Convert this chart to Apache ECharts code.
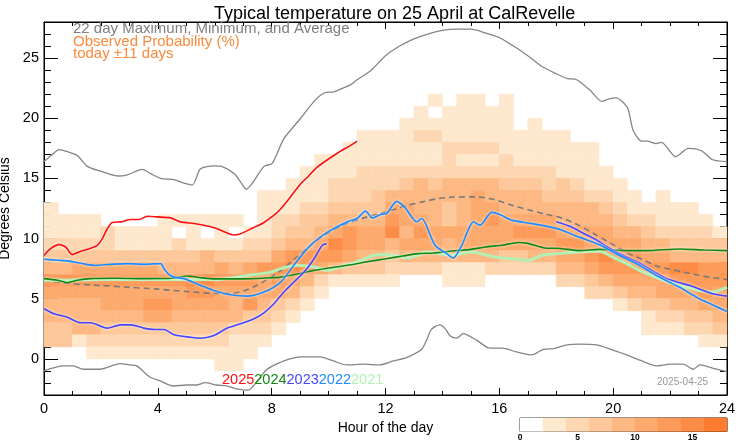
<!DOCTYPE html>
<html><head><meta charset="utf-8">
<script src="https://cdn.jsdelivr.net/npm/echarts@6/dist/echarts.min.js"></script>
<style>html,body{margin:0;padding:0;background:#fff}#c{width:742px;height:445px}</style>
</head><body><div id="c"></div>
<script>
// ---------- data ----------
const xTicks = [0, 4, 8, 12, 16, 20, 24];
const yMajorTicks = [0, 5, 10, 15, 20, 25];
const colorbarTicks = [0, 5, 10, 15];
const colorbarEdges = [0, 2, 4, 6, 8, 10, 12, 14, 16, 18];   // % per colour step
const yearLabels = ['2025', '2024', '2023', '2022', '2021'];

// Observed probability, colour step per cell (0 = <2 %), rows from 22 °C down to -1 °C, 48 half-hour bins
const probTopT = 22;
const binHours = 0.5;
const probRows = [
  '000000000000000000000000000000000000000000000000',
  '000000000000000000000000000101101000000000000000',
  '000000000000000000000000001011111000000000000000',
  '000000000000000000000000011111111010000000000000',
  '000000000000000000000011112211111111100000000000',
  '000000000000000000000111111122221111111000000000',
  '000000000000000000011111111121112111111000000000',
  '000000000000000000111122222222222222111100000000',
  '000000000000000001112222234344443332321110000000',
  '000000000000000111112223444444544443332211010000',
  '100000000000000111223333554434554444444321111100',
  '111100001111110122334444655434565555444432211110',
  '111121111010101123345655746555555666555544322221',
  '222221111211112234457655455545555555665555443333',
  '333333333334333356666544344444443344556766554444',
  '445555554444545667654333222211122222445666667766',
  '666666666677666565421111100011100000223455556666',
  '555555555566555554210000000000000000002234455565',
  '444455566555546432100000000000000000000012334455',
  '444444455444443321000000000000000000000000122334',
  '334433333333322210000000000000000000000000111223',
  '331222222222211100000000000000000000000000000011',
  '000111111111111000000000000000000000000000000000',
  '000000000000110000000000000000000000000000000000'
];

const maxLine = [[0,16.4],[0.25,16.9],[0.53,17.4],[0.85,17.2],[1.17,16.9],[1.52,16.0],[1.99,15.6],[2.58,15.2],[2.93,15.3],[3.45,15.75],[3.75,15.4],[4.1,15.0],[4.57,14.9],[4.92,14.6],[5.21,14.45],[5.5,15.8],[5.97,16.05],[6.24,16.0],[6.68,15.4],[6.91,14.7],[7.11,14.1],[7.32,14.6],[7.73,16.0],[8.02,16.25],[8.43,18.3],[9.02,20.0],[9.49,21.4],[9.84,22.1],[10.19,22.2],[10.5,22.5],[10.75,22.75],[11.0,23.2],[11.5,24.0],[12.0,25.2],[12.5,26.0],[13.0,26.6],[13.5,27.0],[14.0,27.3],[14.5,27.4],[15.0,27.4],[15.5,27.1],[16.0,26.7],[16.5,26.0],[17.0,25.2],[17.5,24.3],[18.0,23.7],[18.4,23.3],[18.72,23.2],[19.2,22.3],[19.6,21.4],[19.83,21.6],[20.1,21.7],[20.5,20.9],[20.7,19.0],[21.0,18.1],[21.2,18.1],[21.5,17.9],[21.7,18.0],[22.2,16.8],[22.64,17.5],[23.1,17.3],[23.5,16.55],[24,16.4]];
const minLine = [[0,-1.0],[0.68,-0.58],[1.03,-0.58],[1.38,-0.86],[1.97,-0.86],[2.67,-0.39],[3.0,-0.5],[3.26,-0.58],[3.72,-1.5],[4.08,-1.83],[4.54,-2.25],[5.01,-2.17],[5.36,-2.17],[5.66,-1.97],[6.07,-2.17],[6.42,-2.25],[6.77,-2.5],[7.18,-2.6],[7.41,-2.1],[7.82,-0.9],[8.29,-0.3],[8.64,0.0],[9.0,0.17],[9.7,0.17],[10.17,-0.17],[10.63,-0.5],[11.22,-0.44],[11.8,-0.5],[12.27,-0.17],[12.74,0.11],[13.27,0.8],[13.45,1.6],[13.62,2.47],[13.91,2.83],[14.1,2.5],[14.27,1.92],[14.5,1.72],[14.73,2.1],[15.2,1.56],[15.67,0.89],[16.1,0.89],[16.6,0.58],[17.14,0.33],[17.55,0.8],[17.9,0.86],[18.37,1.17],[18.83,1.22],[19.42,1.17],[20.0,0.72],[20.47,0.33],[20.94,-0.11],[21.53,-0.58],[22.0,-0.44],[22.46,-0.44],[22.81,-0.86],[23.05,-0.5],[23.52,-0.78],[24,-1.06]];
const avgLine = [[0,6.5],[1,6.25],[2,6.1],[3,5.95],[4,5.8],[5,5.6],[6,5.45],[6.6,5.45],[7.2,5.8],[7.7,6.4],[8.3,7.3],[8.9,8.5],[9.5,9.7],[10,10.5],[10.6,11.2],[11.2,11.7],[12,12.2],[12.6,12.65],[13.2,13.0],[13.8,13.3],[14.4,13.45],[15.2,13.47],[15.8,13.25],[16.4,12.8],[17,12.4],[17.6,12.05],[18.2,11.7],[18.8,11.1],[19.4,10.3],[20,9.5],[20.5,8.8],[21,8.3],[21.5,7.75],[22,7.45],[22.5,7.2],[23,6.95],[23.5,6.75],[24,6.6]];
const y2025 = [[0,8.6],[0.23,9.17],[0.53,9.5],[0.76,9.3],[0.99,8.67],[1.29,8.94],[1.64,9.2],[1.87,9.44],[2.05,10.0],[2.22,10.8],[2.4,11.33],[2.69,11.39],[3.05,11.58],[3.34,11.58],[3.63,11.86],[3.98,11.8],[4.45,11.72],[4.8,11.39],[5.27,11.25],[5.62,11.11],[6.04,10.85],[6.35,10.55],[6.65,10.3],[6.89,10.39],[7.35,10.9],[7.7,11.3],[8.06,11.9],[8.29,12.4],[8.64,13.4],[9.0,14.5],[9.3,15.2],[9.58,15.9],[10.05,16.7],[10.52,17.4],[10.75,17.7],[11.0,18.1]];
const y2024 = [[0,6.67],[0.47,6.53],[0.82,6.33],[1.17,6.53],[1.64,6.67],[2.5,6.7],[3.5,6.67],[4.5,6.7],[5.03,6.89],[5.5,6.75],[6.0,6.65],[7.0,6.65],[8.0,6.75],[8.32,6.8],[9.0,7.1],[9.49,7.36],[10.0,7.55],[10.66,7.78],[11.3,8.05],[12.02,8.33],[12.6,8.55],[13.15,8.75],[13.7,8.8],[14.32,8.97],[15.0,9.1],[15.5,9.3],[16.1,9.45],[16.67,9.67],[17.0,9.6],[17.66,9.2],[18.0,9.2],[18.83,9.0],[19.5,9.1],[20.5,9.0],[21.18,9.0],[22.35,9.14],[23.2,9.05],[24,9.0]];
const y2023a = [[0,4.17],[0.35,3.75],[0.82,3.47],[1.29,3.0],[1.64,3.0],[2.22,2.56],[2.69,2.83],[3.05,2.83],[3.51,2.56],[3.87,2.44],[4.22,2.44],[4.57,2.0],[5.15,1.8],[5.5,1.72],[5.97,1.94],[6.44,2.56],[6.91,2.92],[7.38,3.33],[7.73,3.83],[8.08,4.58],[8.43,5.56],[8.78,6.39],[9.14,7.22],[9.49,8.33],[9.78,9.44],[9.93,9.58]];
const y2023b = [[18.0,11.4],[18.5,11.0],[18.9,10.5],[19.4,9.9],[19.8,9.3],[20.3,8.65],[20.9,8.0],[21.4,7.3],[21.85,6.7],[22.3,6.35],[22.7,6.1],[23.1,5.75],[23.5,5.42],[24,5.22]];
const y2022 = [[0,8.28],[0.5,8.2],[0.94,8.11],[1.3,7.95],[1.76,7.78],[2.3,7.85],[2.93,7.92],[3.51,7.86],[4.1,7.92],[4.22,7.5],[4.4,7.0],[4.57,6.8],[4.92,6.67],[5.5,6.11],[5.97,5.69],[6.56,5.33],[7.14,5.22],[7.73,5.56],[8.32,6.39],[8.78,7.78],[9.25,9.17],[9.72,10.14],[10.19,10.83],[10.66,11.39],[11.0,11.67],[11.3,12.28],[11.54,11.72],[11.83,12.0],[12.05,12.1],[12.39,13.1],[12.68,12.6],[13.1,11.4],[13.27,11.67],[13.74,9.44],[14.15,8.75],[14.38,8.39],[14.68,9.44],[15.09,11.39],[15.32,11.11],[15.73,12.17],[16.02,12.0],[16.43,11.53],[17.14,11.25],[18.03,10.83],[18.83,10.1],[19.5,9.5],[20.1,8.75],[20.92,7.78],[21.62,6.8],[22.32,5.97],[23.03,5.0],[23.49,4.5],[24,3.94]];
const y2021 = [[0,6.53],[1,6.55],[2,6.6],[3,6.6],[4,6.6],[5,6.6],[6,6.6],[6.5,6.7],[7.14,6.94],[7.94,7.19],[8.32,7.5],[8.9,7.78],[9.49,7.64],[9.95,7.36],[10.42,7.64],[11.0,8.06],[11.6,8.61],[12.02,8.67],[12.8,8.39],[13.5,8.89],[14.32,8.61],[15.03,8.89],[15.85,8.47],[16.5,8.3],[17.02,8.19],[17.49,8.61],[18.03,8.75],[18.5,8.85],[19.51,8.94],[20.1,8.33],[20.5,7.9],[20.92,7.36],[21.62,6.67],[22.32,6.11],[23.03,5.69],[23.49,5.56],[24,5.97]];

// ---------- styles ----------
const FONT = '"Liberation Sans", Arial, Helvetica, sans-serif';
const stepColors = ['#ffffff','#fee8ce','#fdd7b2','#fdc89b','#fdb984','#fdaa6e','#fd9b5a','#fd8c46','#fc7d30'];
const yearColors = {'2025':'#ff1010','2024':'#118811','2023':'#4646ff','2022':'#1e8cff','2021':'#b4f0b4'};

const cells = [];
probRows.forEach((row, i) => {
  const t = probTopT - i;
  for (let c = 0; c < row.length; c++) {
    const lv = +row[c];
    if (lv > 0) cells.push([c * binHours, t, lv]);
  }
});
const cbData = colorbarEdges.slice(0, -1).map((lo, i) => [lo, colorbarEdges[i + 1], i]);
const yCats = [];
for (let v = -3; v <= 28; v++) yCats.push(String(v));

function cellItem(params, api) {
  const x0 = api.value(0), t = api.value(1), lv = api.value(2);
  const p0 = api.coord([x0, t + 1]);
  const p1 = api.coord([x0 + binHours, t]);
  const col = stepColors[lv];
  return {type: 'rect', shape: {x: p0[0], y: p0[1], width: p1[0] - p0[0], height: p1[1] - p0[1]},
          style: {fill: col, stroke: col, lineWidth: 0.6}};
}
function cbItem(params, api) {
  const p0 = api.coord([api.value(0), 1]);
  const p1 = api.coord([api.value(1), 0]);
  const col = stepColors[api.value(2)];
  return {type: 'rect', shape: {x: p0[0], y: p0[1], width: p1[0] - p0[0], height: p1[1] - p0[1]},
          style: {fill: col, stroke: col, lineWidth: 0.5}};
}
function line(data, color, width, extra) {
  return Object.assign({type: 'line', xAxisIndex: 0, yAxisIndex: 0, data: data, showSymbol: false,
    smooth: 0.25, silent: true, lineStyle: {color: color, width: width}, z: 3}, extra || {});
}
const halo = {shadowColor: 'rgba(255,255,255,0.95)', shadowBlur: 3};
const noZero = {show: true, onZero: false, lineStyle: {color: '#000', width: 1}};

const chart = echarts.init(document.getElementById('c'), null, {renderer: 'canvas'});
chart.setOption({
  animation: false,
  backgroundColor: '#fff',
  textStyle: {fontFamily: FONT},
  title: {text: 'Typical temperature on 25 April at CalRevelle', left: 209, top: 0,
    textStyle: {fontFamily: FONT, fontSize: 18, fontWeight: 'normal', color: '#000'}},
  grid: [
    {left: 44, right: 15, top: 22, bottom: 50, containLabel: false, outerBoundsMode: 'none',
     show: true, borderColor: '#000', borderWidth: 1, backgroundColor: 'transparent'},
    {left: 520, width: 207, top: 418, height: 13.5, containLabel: false, outerBoundsMode: 'none',
     show: true, borderColor: '#000', borderWidth: 1}
  ],
  xAxis: [
    {gridIndex: 0, type: 'value', min: 0, max: 24, interval: 4, position: 'bottom',
     name: 'Hour of the day', nameLocation: 'middle', nameGap: 24,
     nameTextStyle: {fontFamily: FONT, fontSize: 14, color: '#000'},
     axisLine: noZero,
     axisTick: {show: true, inside: true, length: 7, lineStyle: {color: '#000'}},
     minorTick: {show: true, splitNumber: 4, length: 4, lineStyle: {color: '#000'}},
     axisLabel: {fontFamily: FONT, fontSize: 14.5, color: '#000', margin: 6,
       formatter: v => xTicks.includes(v) ? String(v) : ''},
     splitLine: {show: false}},
    {gridIndex: 0, type: 'value', min: 0, max: 24, interval: 4, position: 'top',
     axisLine: noZero,
     axisTick: {show: true, inside: true, length: 7, lineStyle: {color: '#000'}},
     minorTick: {show: true, splitNumber: 4, length: 4, lineStyle: {color: '#000'}},
     axisLabel: {show: false}, splitLine: {show: false}},
    {gridIndex: 1, type: 'value', min: 0, max: 18, interval: 5,
     axisLine: {show: false, onZero: false}, axisTick: {show: false}, splitLine: {show: false},
     axisLabel: {fontFamily: FONT, fontSize: 8.5, color: '#000', margin: 2, fontWeight: 'bold',
       formatter: v => colorbarTicks.includes(v) ? String(v) : ''}}
  ],
  yAxis: [
    {gridIndex: 0, type: 'value', min: -3, max: 28, interval: 1, position: 'left',
     name: 'Degrees Celsius', nameLocation: 'middle', nameGap: 25, nameRotate: 90,
     nameTextStyle: {fontFamily: FONT, fontSize: 14, color: '#000'},
     axisLine: noZero,
     axisTick: {show: true, inside: true, length: 7, lineStyle: {color: '#000'}},
     axisLabel: {fontFamily: FONT, fontSize: 14.5, color: '#000', margin: 5,
       formatter: v => yMajorTicks.includes(v) ? String(v) : ''},
     splitLine: {show: false}},
    {gridIndex: 0, type: 'category', data: yCats, boundaryGap: false, position: 'left',
     axisLine: {show: false, onZero: false}, axisLabel: {show: false}, splitLine: {show: false},
     axisTick: {show: true, inside: true, length: 14, lineStyle: {color: '#000'},
       interval: (i, v) => yMajorTicks.includes(+v)}},
    {gridIndex: 0, type: 'value', min: -3, max: 28, interval: 1, position: 'right',
     axisLine: noZero,
     axisTick: {show: true, inside: true, length: 7, lineStyle: {color: '#000'}},
     axisLabel: {show: false}, splitLine: {show: false}},
    {gridIndex: 0, type: 'category', data: yCats, boundaryGap: false, position: 'right',
     axisLine: {show: false, onZero: false}, axisLabel: {show: false}, splitLine: {show: false},
     axisTick: {show: true, inside: true, length: 14, lineStyle: {color: '#000'},
       interval: (i, v) => yMajorTicks.includes(+v)}},
    {gridIndex: 1, type: 'value', min: 0, max: 1, show: false}
  ],
  graphic: [
    {type: 'text', left: 73, top: 21, z: 10, silent: true,
     style: {text: '22 day Maximum, Minimum, and Average', font: '15px ' + FONT, fill: '#808080'}},
    {type: 'text', left: 73, top: 34, z: 10, silent: true,
     style: {text: 'Observed Probability (%)', font: '15px ' + FONT, fill: '#fb8a3c'}},
    {type: 'text', left: 73, top: 46, z: 10, silent: true,
     style: {text: 'today \u00b111 days', font: '15px ' + FONT, fill: '#fb8a3c'}},
    {type: 'text', left: 222, top: 372, z: 10, silent: true,
     style: {text: yearLabels.map(y => '{y' + y + '|' + y + '}').join(''), font: '14.5px ' + FONT,
       rich: Object.fromEntries(yearLabels.map(y => ['y' + y, {fill: yearColors[y], font: '14.5px ' + FONT}]))}},
    {type: 'text', left: 657, top: 377, z: 10, silent: true,
     style: {text: '2025-04-25', font: '10px ' + FONT, fill: '#999999'}}
  ],
  series: [
    {type: 'custom', name: 'prob', xAxisIndex: 0, yAxisIndex: 0, data: cells, renderItem: cellItem,
     encode: {x: 0, y: 1}, silent: true, z: 1},
    {type: 'custom', name: 'colorbar', xAxisIndex: 2, yAxisIndex: 4, data: cbData, renderItem: cbItem,
     encode: {x: [0, 1]}, silent: true, z: 1},
    line(maxLine, '#858585', 1.3),
    line(minLine, '#858585', 1.3),
    line(avgLine, '#7a7a7a', 1.6, {lineStyle: {color: '#7a7a7a', width: 1.6, type: [6, 4]}}),
    line(y2021, yearColors['2021'], 3),
    line(y2024, yearColors['2024'], 1.6, {lineStyle: Object.assign({color: yearColors['2024'], width: 1.6}, halo)}),
    line(y2023a, yearColors['2023'], 1.6, {lineStyle: Object.assign({color: yearColors['2023'], width: 1.6}, halo)}),
    line(y2023b, yearColors['2023'], 1.6, {lineStyle: Object.assign({color: yearColors['2023'], width: 1.6}, halo)}),
    line(y2022, yearColors['2022'], 1.7, {lineStyle: Object.assign({color: yearColors['2022'], width: 1.7}, halo)}),
    line(y2025, yearColors['2025'], 1.6, {lineStyle: Object.assign({color: yearColors['2025'], width: 1.6}, halo)})
  ]
});
</script>
</body></html>
